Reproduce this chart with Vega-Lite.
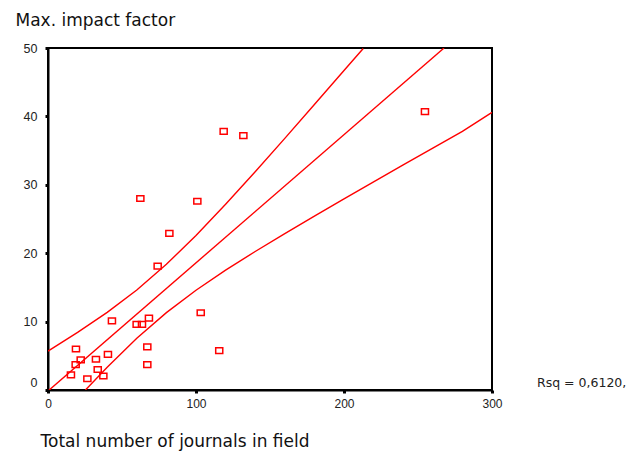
{
  "$schema": "https://vega.github.io/schema/vega-lite/v6.json",
  "width": 444,
  "height": 342,
  "autosize": {"type": "none"},
  "padding": {"left": 48, "top": 48, "right": 151, "bottom": 68},
  "background": "white",
  "config": {
    "view": {"stroke": "black", "strokeWidth": 2},
    "font": "Liberation Sans"
  },
  "datasets": {
    "points": [
      {"x": 118.7, "y": 37.8}, {"x": 132.0, "y": 37.2}, {"x": 254.7, "y": 40.7},
      {"x": 62.4, "y": 28.0}, {"x": 100.9, "y": 27.6}, {"x": 82.0, "y": 22.9},
      {"x": 74.1, "y": 18.1}, {"x": 43.2, "y": 10.1}, {"x": 18.9, "y": 6.0},
      {"x": 18.7, "y": 3.7}, {"x": 22.1, "y": 4.4}, {"x": 15.5, "y": 2.2},
      {"x": 26.6, "y": 1.65}, {"x": 32.4, "y": 4.5}, {"x": 33.6, "y": 3.0},
      {"x": 37.4, "y": 2.05}, {"x": 40.5, "y": 5.2}, {"x": 59.9, "y": 9.6},
      {"x": 63.5, "y": 9.6}, {"x": 68.2, "y": 10.5}, {"x": 67.1, "y": 6.3},
      {"x": 67.1, "y": 3.7}, {"x": 103.2, "y": 11.3}, {"x": 115.7, "y": 5.75}
    ],
    "lines": [
      {"series": "fit", "x": 0, "y": -0.15},
      {"series": "fit", "x": 267.6, "y": 50.0},
      {"series": "upper", "x": 0, "y": 5.68},
      {"series": "upper", "x": 20, "y": 8.42},
      {"series": "upper", "x": 40, "y": 11.35},
      {"series": "upper", "x": 60, "y": 14.62},
      {"series": "upper", "x": 80, "y": 18.37},
      {"series": "upper", "x": 100, "y": 22.6},
      {"series": "upper", "x": 120, "y": 27.16},
      {"series": "upper", "x": 140, "y": 31.92},
      {"series": "upper", "x": 160, "y": 36.79},
      {"series": "upper", "x": 180, "y": 41.73},
      {"series": "upper", "x": 200, "y": 46.71},
      {"series": "upper", "x": 213, "y": 49.92},
      {"series": "lower", "x": 25.3, "y": 0},
      {"series": "lower", "x": 40, "y": 3.34},
      {"series": "lower", "x": 60, "y": 7.56},
      {"series": "lower", "x": 80, "y": 11.31},
      {"series": "lower", "x": 100, "y": 14.58},
      {"series": "lower", "x": 120, "y": 17.52},
      {"series": "lower", "x": 140, "y": 20.25},
      {"series": "lower", "x": 160, "y": 22.87},
      {"series": "lower", "x": 180, "y": 25.43},
      {"series": "lower", "x": 200, "y": 27.95},
      {"series": "lower", "x": 220, "y": 30.44},
      {"series": "lower", "x": 240, "y": 32.91},
      {"series": "lower", "x": 260, "y": 35.36},
      {"series": "lower", "x": 280, "y": 37.81},
      {"series": "lower", "x": 300, "y": 40.6}
    ]
  },
  "layer": [
    {
      "data": {"name": "lines"},
      "mark": {"type": "line", "color": "#ff0000", "strokeWidth": 1.4, "clip": true},
      "encoding": {
        "x": {
          "field": "x", "type": "quantitative",
          "scale": {"domain": [0, 300], "nice": false, "zero": true},
          "axis": {
            "values": [0, 100, 200, 300],
            "grid": false,
            "title": "Total number of journals in field",
            "titleX": -8, "titleY": 56,
            "titleAlign": "left", "titleBaseline": "alphabetic",
            "titleFont": "DejaVu Sans", "titleFontSize": 17, "titleFontWeight": "normal", "titleColor": "#111",
            "labelFont": "Liberation Sans", "labelFontSize": 12, "labelColor": "#222",
            "labelPadding": 5, "labelFlush": false,
            "tickSize": 3, "tickWidth": 3, "tickColor": "black",
            "domainColor": "black", "domainWidth": 2
          }
        },
        "y": {
          "field": "y", "type": "quantitative",
          "scale": {"domain": [0, 50], "nice": false, "zero": true},
          "axis": {
            "values": [0, 10, 20, 30, 40, 50],
            "grid": false,
            "title": "Max. impact factor",
            "titleAngle": 0, "titleX": -33, "titleY": -23,
            "titleAlign": "left", "titleBaseline": "alphabetic",
            "titleFont": "DejaVu Sans", "titleFontSize": 17, "titleFontWeight": "normal", "titleColor": "#111",
            "labelFont": "Liberation Sans", "labelFontSize": 12.5, "labelColor": "#222",
            "labelPadding": 8, "labelFlush": false,
            "labelOffset": {"condition": {"test": "datum.value == 0", "value": -8}, "value": 0},
            "tickSize": 3, "tickWidth": 3, "tickColor": "black",
            "domainColor": "black", "domainWidth": 2
          }
        },
        "detail": {"field": "series", "type": "nominal"}
      }
    },
    {
      "data": {"name": "points"},
      "mark": {
        "type": "point",
        "shape": "M -1 -0.8 L 1 -0.8 L 1 0.8 L -1 0.8 Z",
        "size": 50, "filled": false, "stroke": "#ff0000", "strokeWidth": 1.5, "opacity": 1
      },
      "encoding": {
        "x": {"field": "x", "type": "quantitative"},
        "y": {"field": "y", "type": "quantitative"}
      }
    },
    {
      "data": {"values": [{"label": "Rsq = 0,6120,"}]},
      "mark": {"type": "text", "align": "left", "baseline": "middle", "dx": 45, "dy": -7, "font": "DejaVu Sans", "fontSize": 12.5, "color": "#222", "clip": false},
      "encoding": {
        "x": {"datum": 300, "type": "quantitative"},
        "y": {"datum": 0, "type": "quantitative"},
        "text": {"field": "label", "type": "nominal"}
      }
    }
  ]
}
